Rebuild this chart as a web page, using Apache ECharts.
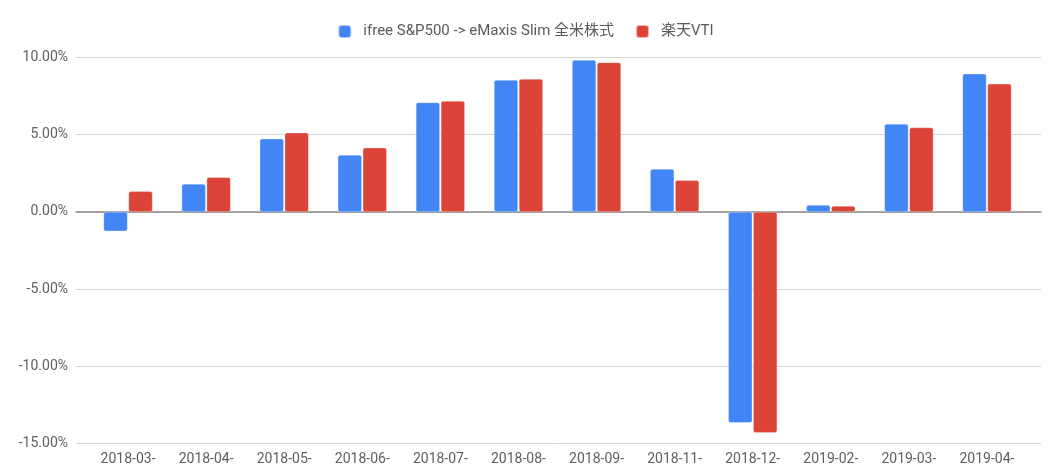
<!DOCTYPE html>
<html>
<head>
<meta charset="utf-8">
<script src="https://cdn.jsdelivr.net/npm/echarts@6/dist/echarts.min.js"></script>
<style>
  html, body { margin: 0; padding: 0; background: #fff; }
  #chart { width: 1051px; height: 475px; }
</style>
</head>
<body>
<div id="chart"></div>
<script>
// 月次リターン (%)
const months = ['2018-03-', '2018-04-', '2018-05-', '2018-06-', '2018-07-', '2018-08-',
                '2018-09-', '2018-11-', '2018-12-', '2019-02-', '2019-03-', '2019-04-'];
const sp500Slim = [-1.25, 1.81, 4.74, 3.69, 7.09, 8.54, 9.84, 2.78, -13.66, 0.45, 5.70, 8.95];
const rakutenVti = [1.33, 2.24, 5.13, 4.16, 7.18, 8.61, 9.68, 2.05, -14.30, 0.39, 5.46, 8.30];
const seriesNames = ['ifree S&P500 -> eMaxis Slim 全米株式', '楽天VTI'];
const yTicks = { min: -15, max: 10, step: 5 };

const chart = echarts.init(document.getElementById('chart'));
const font = 'Roboto, "Noto Sans CJK JP", sans-serif';

const barStyle = (color) => ({
    color: color,
    borderRadius: 2,
    borderColor: 'rgba(255,255,255,0.6)',
    borderWidth: 0.5
});

chart.setOption({
    animation: false,
    textStyle: { fontFamily: font },
    legend: {
        top: 19,
        left: 'center',
        itemWidth: 13,
        itemHeight: 13,
        itemGap: 21,
        icon: 'roundRect',
        textStyle: { fontSize: 15, color: '#5a5a5a', fontFamily: font, padding: [0, 0, 0, 7] },
        data: seriesNames
    },
    grid: [
        // bars
        { left: 89, right: 25, top: 57.5, bottom: 31.5 },
        // background: gridlines, y labels, zero line
        { left: 76, right: 10, top: 57.5, bottom: 31.5 }
    ],
    xAxis: [
        {
            type: 'category',
            gridIndex: 0,
            data: months,
            axisLine: { show: false, onZero: false },
            axisTick: { show: false },
            axisLabel: { color: '#5f5f5f', fontSize: 14, margin: 9, fontFamily: font, interval: 0 }
        },
        {
            type: 'value',
            gridIndex: 1,
            min: 0,
            max: 1,
            axisLine: { show: true, onZero: true, lineStyle: { color: '#8a8a8a', width: 1.5 } },
            axisTick: { show: false },
            axisLabel: { show: false },
            splitLine: { show: false }
        }
    ],
    yAxis: [
        {
            type: 'value',
            gridIndex: 0,
            min: yTicks.min,
            max: yTicks.max,
            interval: yTicks.step,
            show: false,
            splitLine: { show: false }
        },
        {
            type: 'value',
            gridIndex: 1,
            min: yTicks.min,
            max: yTicks.max,
            interval: yTicks.step,
            axisLine: { show: false },
            axisTick: { show: false },
            axisLabel: {
                color: '#5f5f5f', fontSize: 14, margin: 8, fontFamily: font,
                formatter: (v) => v.toFixed(2) + '%'
            },
            splitLine: { lineStyle: { color: '#d6d6d6', width: 1 } }
        }
    ],
    series: [
        {
            name: seriesNames[0],
            type: 'bar',
            xAxisIndex: 0,
            yAxisIndex: 0,
            data: sp500Slim,
            barWidth: 24,
            barGap: '4%',
            itemStyle: barStyle('#4285f4'),
            z: 3
        },
        {
            name: seriesNames[1],
            type: 'bar',
            xAxisIndex: 0,
            yAxisIndex: 0,
            data: rakutenVti,
            barWidth: 24,
            barGap: '4%',
            itemStyle: barStyle('#db4437'),
            z: 3
        }
    ],
    color: ['#4285f4', '#db4437']
});
</script>
</body>
</html>
